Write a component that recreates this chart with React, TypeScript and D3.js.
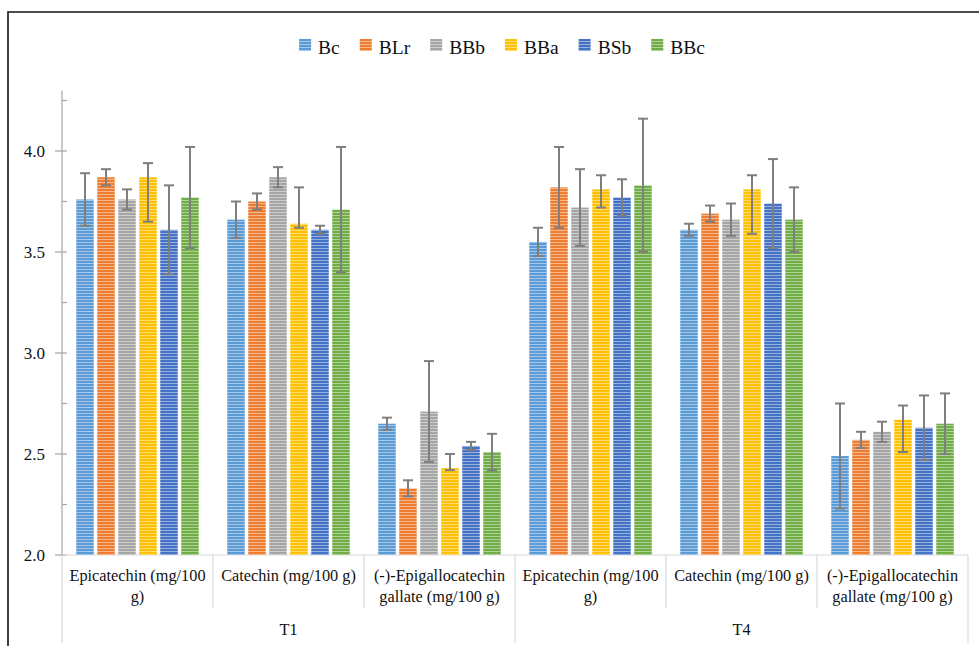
import { useEffect, useRef } from 'react'
import * as d3 from 'd3'

const groups = ['T1', 'T4']
const compounds = ['Epicatechin (mg/100 g)', 'Catechin (mg/100 g)', '(-)-Epigallocatechin gallate (mg/100 g)']
// wrapped label lines, same order as compounds
const compoundLines = [['Epicatechin (mg/100', 'g)'], ['Catechin (mg/100 g)'], ['(-)-Epigallocatechin', 'gallate (mg/100 g)']]

const series = ['Bc', 'BLr', 'BBb', 'BBa', 'BSb', 'BBc']
const colors = ['#5B9BD5', '#ED7D31', '#A5A5A5', '#FFC000', '#4472C4', '#70AD47']

// one row per series, columns: T1 Epi, T1 Cat, T1 EGCG, T4 Epi, T4 Cat, T4 EGCG
const means = [
  [3.76, 3.66, 2.65, 3.55, 3.61, 2.49],
  [3.87, 3.75, 2.33, 3.82, 3.69, 2.57],
  [3.76, 3.87, 2.71, 3.72, 3.66, 2.61],
  [3.87, 3.64, 2.43, 3.81, 3.81, 2.67],
  [3.61, 3.61, 2.54, 3.77, 3.74, 2.63],
  [3.77, 3.71, 2.51, 3.83, 3.66, 2.65],
]
const errUp = [
  [0.13, 0.09, 0.03, 0.07, 0.03, 0.26],
  [0.04, 0.04, 0.04, 0.2, 0.04, 0.04],
  [0.05, 0.05, 0.25, 0.19, 0.08, 0.05],
  [0.07, 0.18, 0.07, 0.07, 0.07, 0.07],
  [0.22, 0.02, 0.02, 0.09, 0.22, 0.16],
  [0.25, 0.31, 0.09, 0.33, 0.16, 0.15],
]
const errDown = [
  [0.13, 0.09, 0.03, 0.07, 0.03, 0.26],
  [0.04, 0.04, 0.04, 0.2, 0.04, 0.04],
  [0.05, 0.05, 0.25, 0.19, 0.08, 0.05],
  [0.22, 0.02, 0.01, 0.09, 0.22, 0.16],
  [0.22, 0.02, 0.02, 0.09, 0.22, 0.16],
  [0.25, 0.31, 0.09, 0.33, 0.16, 0.15],
]

const majorTicks = [2.0, 2.5, 3.0, 3.5, 4.0]
const minorTicks = [2.25, 2.75, 3.25, 3.75, 4.25]

const W = 979
const H = 646
const FONT = '"Liberation Serif", "Times New Roman", serif'

export default function App() {
  const ref = useRef<SVGSVGElement>(null)

  useEffect(() => {
    if (!ref.current) return
    const svg = d3.select(ref.current)
    svg.selectAll('*').remove()

    const left = 62, right = 968, bottom = 555

    const y = d3.scaleLinear().domain([2, 4.3]).range([bottom, bottom - 2.3 * 202])

    const cats = groups.flatMap(g => compounds.map(c => `${g}|${c}`))
    const x0 = d3.scaleBand().domain(cats).range([left, right])
    const x1 = d3.scaleBand().domain(series)
      .range([14.25, x0.bandwidth() - 14.25])
      .paddingInner(0.167)

    const gx = d3.scaleBand().domain(groups).range([left, right])

    // stripe patterns
    const defs = svg.append('defs')
    colors.forEach((c, i) => {
      const p = defs.append('pattern')
        .attr('id', `stripe${i}`)
        .attr('patternUnits', 'userSpaceOnUse')
        .attr('width', 6).attr('height', 3)
      p.append('rect').attr('width', 6).attr('height', 3).attr('fill', c)
      p.append('rect').attr('y', 2).attr('width', 6).attr('height', 1)
        .attr('fill', d3.interpolateRgb(c, '#fff')(0.45))
    })

    // outer frame
    svg.append('path')
      .attr('d', `M8,${H}V12H${W}`)
      .attr('fill', 'none').attr('stroke', '#111').attr('stroke-width', 1.6)

    // legend
    const legend = svg.append('g').attr('font-family', FONT).attr('font-size', 19.5)
    let cx = 0
    series.forEach((s, i) => {
      const g = legend.append('g').attr('transform', `translate(${cx},0)`)
      g.append('rect').attr('x', 0).attr('y', 39).attr('width', 12).attr('height', 12)
        .attr('fill', `url(#stripe${i})`)
      const t = g.append('text').attr('x', 19).attr('y', 54).attr('fill', '#111').text(s)
      const w = (t.node() as SVGTextElement).getComputedTextLength()
      cx += 19 + w + 20
    })
    const legendW = cx - 20
    legend.attr('transform', `translate(${502 - legendW / 2},0)`)

    // y axis
    svg.append('line')
      .attr('x1', left).attr('x2', left)
      .attr('y1', y(4.3)).attr('y2', bottom)
      .attr('stroke', '#a6a6a6').attr('stroke-width', 1.2)
    svg.append('line')
      .attr('x1', left).attr('x2', left)
      .attr('y1', bottom).attr('y2', 643)
      .attr('stroke', '#d9d9d9').attr('stroke-width', 1.2)

    svg.selectAll('.major').data(majorTicks).enter().append('line')
      .attr('x1', left - 7).attr('x2', left + 5)
      .attr('y1', d => y(d)).attr('y2', d => y(d))
      .attr('stroke', '#a6a6a6').attr('stroke-width', 1.2)
    svg.selectAll('.minor').data(minorTicks).enter().append('line')
      .attr('x1', left).attr('x2', left + 5)
      .attr('y1', d => y(d)).attr('y2', d => y(d))
      .attr('stroke', '#a6a6a6').attr('stroke-width', 1.2)
    svg.selectAll('.ylab').data(majorTicks).enter().append('text')
      .attr('x', 45).attr('y', d => y(d)).attr('dy', '0.35em')
      .attr('text-anchor', 'end')
      .attr('font-family', FONT).attr('font-size', 17).attr('fill', '#111')
      .text(d => d.toFixed(1))

    // x axis line and separators
    svg.append('line')
      .attr('x1', left).attr('x2', right).attr('y1', bottom).attr('y2', bottom)
      .attr('stroke', '#d9d9d9').attr('stroke-width', 1.2)
    cats.forEach((c, i) => {
      if (i === 0) return
      const xx = x0(c)!
      const isGroup = i % compounds.length === 0
      svg.append('line')
        .attr('x1', xx).attr('x2', xx)
        .attr('y1', bottom).attr('y2', isGroup ? 643 : 608)
        .attr('stroke', '#d9d9d9').attr('stroke-width', 1.2)
    })
    svg.append('line')
      .attr('x1', right).attr('x2', right).attr('y1', bottom).attr('y2', 643)
      .attr('stroke', '#d9d9d9').attr('stroke-width', 1.2)

    // category labels
    cats.forEach((c, i) => {
      const lines = compoundLines[i % compounds.length]
      const t = svg.append('text')
        .attr('font-family', FONT).attr('font-size', 16.3).attr('fill', '#111')
        .attr('text-anchor', 'middle')
      lines.forEach((l, k) => {
        t.append('tspan')
          .attr('x', x0(c)! + x0.bandwidth() / 2)
          .attr('y', 581 + k * 21)
          .text(l)
      })
    })
    groups.forEach(g => {
      svg.append('text')
        .attr('x', gx(g)! + gx.bandwidth() / 2).attr('y', 635)
        .attr('text-anchor', 'middle')
        .attr('font-family', FONT).attr('font-size', 16.3).attr('fill', '#111')
        .text(g)
    })

    // bars
    series.forEach((s, si) => {
      const g = svg.append('g')
      g.selectAll('rect').data(means[si]).enter().append('rect')
        .attr('x', (_, ci) => x0(cats[ci])! + x1(s)!)
        .attr('width', x1.bandwidth())
        .attr('y', d => y(d))
        .attr('height', d => bottom - y(d))
        .attr('fill', `url(#stripe${si})`)
    })

    // error bars
    series.forEach((s, si) => {
      means[si].forEach((m, ci) => {
        const cxp = x0(cats[ci])! + x1(s)! + x1.bandwidth() / 2
        const hi = y(m + errUp[si][ci])
        const lo = y(m - errDown[si][ci])
        const eg = svg.append('g').attr('stroke', '#7f7f7f').attr('stroke-width', 2)
        eg.append('line').attr('x1', cxp).attr('x2', cxp).attr('y1', hi).attr('y2', lo)
        eg.append('line').attr('x1', cxp - 5).attr('x2', cxp + 5).attr('y1', hi).attr('y2', hi)
        eg.append('line').attr('x1', cxp - 5).attr('x2', cxp + 5).attr('y1', lo).attr('y2', lo)
      })
    })
  }, [])

  return (
    <svg
      ref={ref}
      width={W}
      height={H}
      style={{ position: 'absolute', left: 0, top: 0, background: '#fff' }}
    />
  )
}
